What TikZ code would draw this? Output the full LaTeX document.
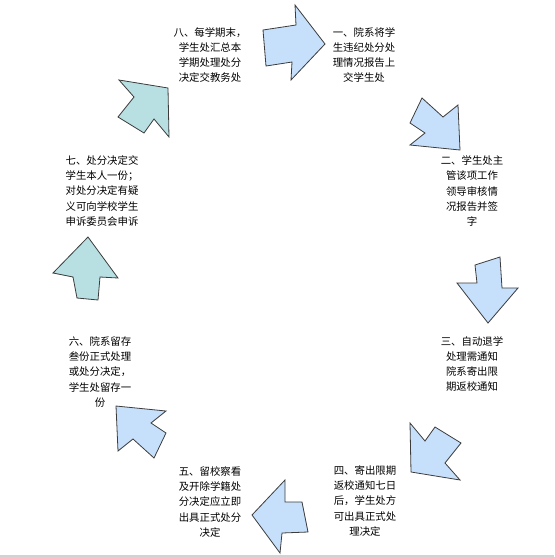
\documentclass[tikz,border=0pt]{standalone}
\usepackage{fontspec}
\newfontfamily\cjk{Noto Sans CJK SC}
\usepackage{tikz}
\usetikzlibrary{positioning}
\definecolor{arrowblue}{HTML}{C6E0FB}
\definecolor{arrowteal}{HTML}{B8DFE1}
\definecolor{edge}{HTML}{3C3C3C}

\begin{document}
\begin{tikzpicture}[x=0.75pt,y=-0.75pt,
  stage/.style={align=center,inner sep=0pt,
                font=\cjk\fontsize{7.8}{11.3}\selectfont},
  blockarrow/.style={draw=edge,line width=0.6pt,line join=miter,fill=arrowblue}]
  \useasboundingbox (0,0) rectangle (554,557);
  \draw[gray!35,line width=1.5pt] (0,555.5) -- (554,555.5);

  % the eight steps, clockwise from the top
  \node[stage] (stage1) at (364,55) {一、院系将学\\生违纪处分处\\理情况报告上\\交学生处};
  \node[stage] (stage2) at (472,191) {二、学生处主\\管该项工作\\领导审核情\\况报告并签\\字};
  \node[stage] (stage3) at (472,364) {三、自动退学\\处理需通知\\院系寄出限\\期返校通知};
  \node[stage] (stage4) at (365,501) {四、寄出限期\\返校通知七日\\后，学生处方\\可出具正式处\\理决定};
  \node[stage] (stage5) at (210,502) {五、留校察看\\及开除学籍处\\分决定应立即\\出具正式处分\\决定};
  \node[stage] (stage6) at (100,372) {六、院系留存\\叁份正式处理\\或处分决定，\\学生处留存一\\份};
  \node[stage] (stage7) at (102,191) {七、处分决定交\\学生本人一份；\\对处分决定有疑\\义可向学校学生\\申诉委员会申诉};
  \node[stage] (stage8) at (210,55) {八、每学期末，\\学生处汇总本\\学期处理处分\\决定交教务处};

  % block arrows between the steps
  \draw[blockarrow] (263,30) -- (296,25) -- (295,5) -- (325,44) -- (291,80) -- (292,62) -- (266,66) -- cycle;
  \draw[blockarrow] (422,98) -- (443,117) -- (458,105) -- (460,150) -- (410,145) -- (425,133) -- (410,123) -- cycle;
  \draw[blockarrow] (475,265) -- (500,257) -- (502,288) -- (518,288) -- (488,323) -- (457,283) -- (477,283) -- cycle;
  \draw[blockarrow] (435,427) -- (461,443) -- (445,463) -- (460,480) -- (411,472) -- (410,423) -- (425,441) -- cycle;
  \draw[blockarrow] (302,502) -- (308,532) -- (282,533) -- (280,553) -- (252,515) -- (285,480) -- (285,502) -- cycle;
  \draw[blockarrow] (154,458) -- (133,439) -- (118,451) -- (116,406) -- (166,411) -- (151,423) -- (166,433) -- cycle;
  \draw[blockarrow,fill=arrowteal] (77,298) -- (73,277) -- (53,273) -- (88,237) -- (118,278) -- (100,277) -- (98,300) -- cycle;
  \draw[blockarrow,fill=arrowteal] (144,133) -- (118,117) -- (134,97) -- (119,80) -- (168,88) -- (169,137) -- (154,119) -- cycle;
\end{tikzpicture}
\end{document}
